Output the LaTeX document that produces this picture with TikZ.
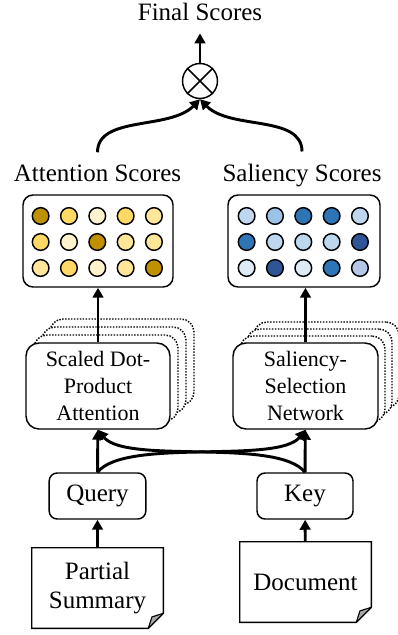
\documentclass[tikz,border=0pt]{standalone}
\usepackage{fontspec}
\setmainfont{Liberation Serif}
\usetikzlibrary{arrows.meta,calc}
\definecolor{A1}{HTML}{BF9000}
\definecolor{A2}{HTML}{FFD966}
\definecolor{A3}{HTML}{FFE699}
\definecolor{A4}{HTML}{FFF2CC}
\definecolor{B1}{HTML}{2E75B6}
\definecolor{B2}{HTML}{2F5597}
\definecolor{B3}{HTML}{9DC3E6}
\definecolor{B4}{HTML}{BDD7EE}
\definecolor{B5}{HTML}{DEEBF7}
\definecolor{B6}{HTML}{B4C7E7}
\definecolor{foldgray}{HTML}{A6A6A6}
\begin{document}
\begin{tikzpicture}[x=0.75pt,y=-0.75pt,
  bigfont/.style={font=\fontsize{18.75}{22}\selectfont},
  scorebox/.style={draw,line width=1.1pt,rounded corners=7.5pt,minimum width=112.5pt,minimum height=69pt,inner sep=0pt},
  modbox/.style={draw,line width=1.1pt,rounded corners=9.75pt,fill=white,minimum width=108pt,minimum height=64.5pt,inner sep=0pt,align=center,font=\fontsize{16.5}{20}\selectfont},
  copybox/.style={modbox,dash pattern=on 1.1pt off 1.1pt},
  smallbox/.style={draw,line width=1.1pt,rounded corners=6pt,minimum width=72.5pt,minimum height=34.5pt,inner sep=0pt,bigfont},
  docnode/.style={minimum width=98.25pt,minimum height=60pt,inner sep=0pt,align=center,bigfont},
  docline/.style={draw,line width=1.1pt,line join=miter},
  fold/.style={draw,line width=0.8pt,fill=foldgray,line join=round},
  dot/.style={circle,draw,line width=1.1pt,minimum size=12.5pt,inner sep=0pt},
  lbl/.style={bigfont,inner sep=0pt,anchor=base,outer ysep=9.5pt},
  arr/.style={line width=2.2pt,-{Triangle[length=7.5pt,width=8pt]}},
  otimes/.style={circle,draw,line width=1.1pt,minimum size=26.25pt,inner sep=0pt}
]
\useasboundingbox (0,0) rectangle (397,635);

% top
\node[lbl] (fs) at (200,20.5) {Final Scores};
\node[otimes] (ot) at (200,81) {};
\draw[line width=1.1pt] (ot.north west) -- (ot.south east) (ot.north east) -- (ot.south west);

% score labels
\node[lbl] (attl) at (97.5,181.5) {Attention Scores};
\node[lbl] (sall) at (302,181.5) {Saliency Scores};

% score boxes
\node[scorebox] (att) at (98,241) {};
\node[scorebox,minimum width=114pt] (sal) at (304,241) {};
\foreach \row [count=\r] in {{A1,A2,A4,A2,A3},{A2,A4,A1,A3,A3},{A3,A2,A4,A3,A1}}
  \foreach \c [count=\k] in \row
    \node[dot,fill=\c] (a\r\k) at ({97.3+28.33*(\k-3)},{216+26*(\r-1)}) {};
\foreach \row [count=\r] in {{B4,B3,B1,B1,B4},{B1,B4,B4,B4,B2},{B5,B2,B5,B1,B6}}
  \foreach \c [count=\k] in \row
    \node[dot,fill=\c] (s\r\k) at ({303.3+28.33*(\k-3)},{216+26*(\r-1)}) {};

% module stacks
\node[copybox] (sdpc3) at (122,362) {};
\node[copybox] (sdpc2) at (114,370) {};
\node[copybox] (sdpc1) at (106,378) {};
\node[modbox] (sdp) at (98,386) {Scaled Dot-\\Product\\Attention};

\node[copybox,minimum width=108.75pt] (ssnc3) at (326.5,365) {};
\node[copybox,minimum width=108.75pt] (ssnc2) at (319.5,372) {};
\node[copybox,minimum width=108.75pt] (ssnc1) at (312.5,379) {};
\node[modbox,minimum width=108.75pt] (ssn) at (305.5,386) {Saliency-\\Selection\\Network};

% query / key
\node[smallbox] (q) at (97.5,496) {Query};
\node[smallbox,minimum width=72pt] (key) at (305,496) {Key};

% documents
\node[docnode] (ps) at (97.5,588) {Partial\\Summary};
\draw[docline] (ps.north west) -- (ps.north east) -- ([yshift=11.25pt]ps.south east)
  -- ([xshift=-11.25pt]ps.south east) -- (ps.south west) -- cycle;
\draw[fold] ([yshift=11.25pt]ps.south east) -- ([xshift=-11.25pt]ps.south east)
  -- ([xshift=-8.5pt,yshift=8.5pt]ps.south east) -- cycle;

\node[docnode] (doc) at (305.5,582) {Document};
\draw[docline] (doc.north west) -- (doc.north east) -- ([yshift=11.25pt]doc.south east)
  -- ([xshift=-11.25pt]doc.south east) -- (doc.south west) -- cycle;
\draw[fold] ([yshift=11.25pt]doc.south east) -- ([xshift=-11.25pt]doc.south east)
  -- ([xshift=-8.5pt,yshift=8.5pt]doc.south east) -- cycle;

% connectors
\draw[arr] (ps) -- (q);
\draw[arr] (doc) -- (key);
\draw[arr] (q) -- (sdp);
\draw[arr] (key) -- (ssn);
\draw[arr] (q.north) .. controls +(27.5,-35) and +(-27.5,35) .. (ssn.south);
\draw[arr] (key.north) .. controls +(-27.5,-35) and +(27.5,35) .. (sdp.south);
\draw[arr] (sdp.north) -- (sdp.north |- att.south);
\draw[arr] (ssn.north) -- (ssn.north |- sal.south);
\draw[arr] (attl.north) .. controls +(0,-37) and +(-30,31) .. (ot.south);
\draw[arr] (sall.north) .. controls +(0,-37) and +(30,31) .. (ot.south);
\draw[arr] (ot) -- (fs);
\end{tikzpicture}
\end{document}
